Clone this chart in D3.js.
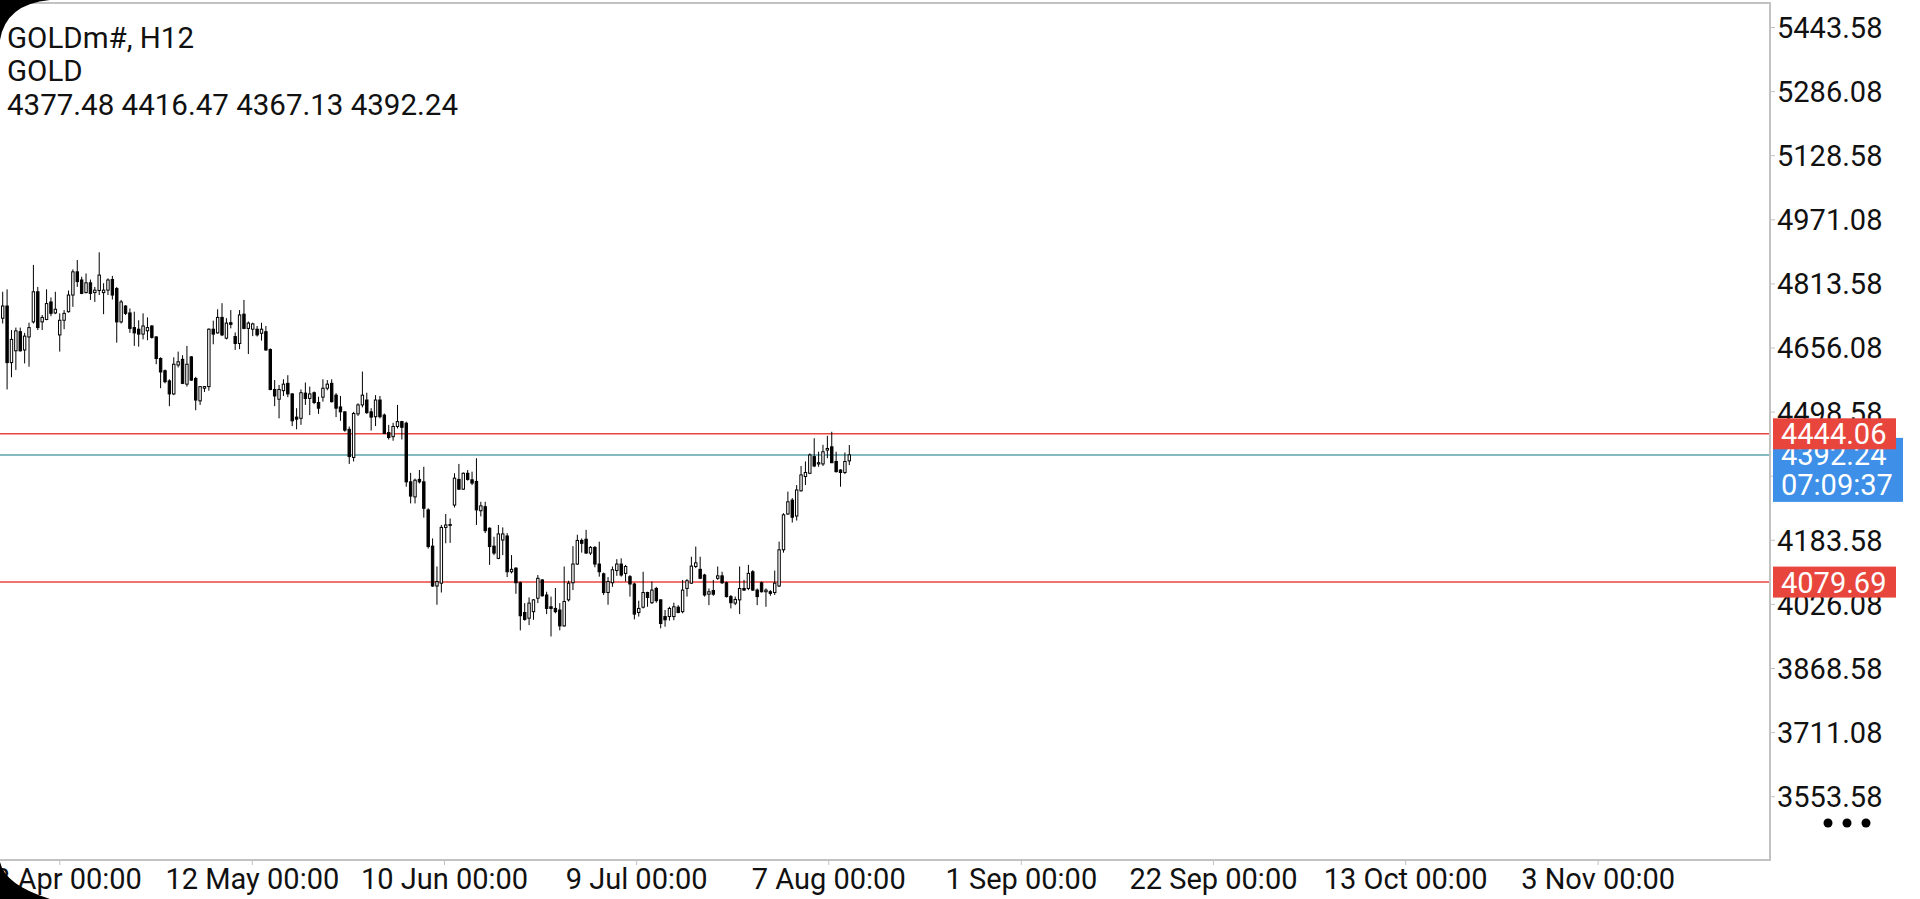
<!DOCTYPE html>
<html>
<head>
<meta charset="utf-8">
<script src="https://cdn.jsdelivr.net/npm/d3@7"></script>
<style>
  html, body { margin: 0; padding: 0; background: #fff; overflow: hidden; }
  svg { display: block; font-family: Roboto, "Noto Sans", sans-serif; }
</style>
</head>
<body>
<div id="chart"></div>
<script>
// header texts
const symbol = "GOLDm#, H12";
const description = "GOLD";
const barTimer = "07:09:37";

// H12 candles (oldest first)
const openP = [
  4728,4758,4619,4648,4695,4650,4682,4719,4793,4719,
  4725,4768,4741,4687,4723,4744,4785,4842,4822,4791,
  4815,4791,4796,4791,4797,4823,4801,4719,4758,4741,
  4705,4701,4689,4697,4709,4682,4629,4599,4574,4542,
  4613,4627,4566,4633,4580,4525,4556,4560,4701,4692,
  4730,4679,4717,4683,4666,4738,4703,4701,4701,4691,
  4695,4651,4553,4529,4550,4568,4542,4485,4482,4544,
  4531,4545,4521,4534,4556,4568,4539,4510,4498,4455,
  4386,4493,4515,4527,4498,4486,4527,4490,4447,4437,
  4462,4474,4470,4326,4289,4332,4326,4257,4168,4070,
  4077,4214,4219,4269,4332,4308,4347,4331,4327,4255,
  4265,4212,4168,4138,4183,4193,4105,4114,4078,4005,
  3991,4007,4040,4085,4048,4019,4015,4011,3972,4036,
  4078,4124,4182,4185,4151,4165,4124,4100,4054,4078,
  4108,4124,4101,4093,4075,4005,4018,4054,4029,4064,
  4036,3995,3995,3995,4018,4007,4064,4077,4118,4111,
  4097,4050,4059,4089,4095,4078,4044,4028,4036,4064,
  4064,4105,4060,4078,4056,4056,4054,4070,4159,4247,
  4281,4242,4304,4339,4347,4388,4370,4370,4404,4412,
  4376,4355,4349,4377.48
];
const highP = [
  4793,4799,4699,4705,4705,4692,4717,4859,4805,4736,
  4799,4779,4793,4740,4748,4796,4848,4871,4830,4838,
  4823,4805,4890,4814,4826,4832,4805,4773,4760,4752,
  4744,4723,4740,4730,4711,4684,4632,4602,4578,4632,
  4646,4637,4660,4635,4584,4561,4561,4703,4722,4750,
  4765,4728,4748,4693,4748,4773,4720,4717,4709,4717,
  4709,4654,4576,4564,4578,4588,4544,4507,4553,4570,
  4560,4548,4535,4578,4576,4578,4544,4537,4499,4462,
  4498,4519,4597,4545,4507,4539,4537,4494,4466,4471,
  4515,4476,4474,4348,4334,4355,4363,4261,4187,4118,
  4220,4247,4236,4347,4370,4349,4355,4351,4384,4277,
  4277,4214,4191,4220,4214,4200,4146,4116,4081,4028,
  4042,4038,4097,4087,4056,4044,4065,4028,4118,4083,
  4168,4196,4187,4208,4168,4168,4179,4103,4092,4118,
  4136,4138,4122,4097,4078,4034,4105,4056,4081,4068,
  4037,4011,4019,4029,4023,4085,4087,4142,4167,4142,
  4100,4064,4085,4118,4105,4081,4048,4044,4118,4085,
  4122,4109,4064,4081,4064,4060,4108,4179,4249,4302,
  4286,4318,4365,4376,4396,4433,4400,4417,4439,4449,
  4400,4357,4398,4416.47
];
const lowP = [
  4715,4553,4583,4601,4646,4617,4609,4715,4699,4699,
  4723,4733,4738,4646,4701,4742,4756,4805,4787,4789,
  4773,4768,4785,4738,4785,4774,4668,4715,4736,4692,
  4660,4658,4676,4674,4678,4615,4556,4568,4512,4539,
  4607,4566,4560,4574,4502,4515,4547,4550,4664,4690,
  4684,4676,4703,4650,4652,4701,4640,4684,4683,4673,
  4648,4551,4512,4482,4537,4534,4463,4455,4466,4515,
  4490,4517,4493,4523,4551,4521,4485,4476,4449,4370,
  4376,4488,4509,4493,4452,4463,4482,4444,4430,4427,
  4457,4430,4314,4273,4273,4322,4238,4162,4068,4024,
  4054,4175,4176,4263,4306,4306,4329,4318,4220,4241,
  4200,4122,4146,4136,4146,4092,4101,4051,3961,3985,
  3974,3987,4028,4044,4001,3946,4003,3961,3970,4032,
  4060,4122,4152,4149,4146,4116,4093,4048,4024,4068,
  4095,4093,4081,4044,3988,3995,4015,4019,4026,4029,
  3966,3970,3985,3986,4003,4003,4044,4075,4114,4087,
  4044,4023,4046,4085,4075,4042,4015,4023,4001,4058,
  4060,4058,4023,4054,4019,4046,4048,4068,4152,4245,
  4226,4231,4302,4318,4345,4362,4363,4365,4384,4372,
  4349,4314,4345,4367.13
];
const closeP = [
  4758,4619,4676,4697,4648,4684,4705,4793,4705,4730,
  4764,4740,4750,4723,4740,4785,4842,4818,4789,4815,
  4789,4797,4834,4797,4822,4785,4719,4768,4740,4703,
  4692,4689,4709,4705,4681,4629,4596,4572,4542,4615,
  4621,4568,4615,4576,4527,4560,4560,4701,4689,4730,
  4687,4716,4713,4666,4736,4703,4716,4714,4687,4701,
  4650,4553,4537,4553,4566,4542,4476,4480,4545,4531,
  4542,4521,4507,4556,4566,4523,4507,4498,4453,4388,
  4494,4515,4539,4496,4485,4527,4486,4445,4435,4462,
  4474,4460,4326,4291,4330,4326,4261,4167,4070,4081,
  4214,4220,4221,4335,4308,4347,4332,4323,4257,4267,
  4206,4167,4151,4198,4198,4105,4111,4078,3997,3988,
  4028,4036,4089,4046,4015,4015,4007,3972,4032,4077,
  4124,4182,4175,4151,4165,4124,4105,4054,4081,4110,
  4124,4097,4118,4075,4001,4015,4054,4042,4060,4034,
  3978,3987,4015,4019,4005,4060,4083,4119,4127,4089,
  4048,4056,4050,4095,4078,4044,4029,4037,4064,4060,
  4101,4060,4044,4056,4060,4052,4077,4159,4245,4277,
  4239,4306,4343,4349,4392,4365,4373,4400,4408,4373,
  4351,4349,4376,4392.24
];

// price scale labels
const priceTicks = [5443.58, 5286.08, 5128.58, 4971.08, 4813.58, 4656.08, 4498.58,
  4341.08, 4183.58, 4026.08, 3868.58, 3711.08, 3553.58];

// time scale labels and the bar position they sit on
const timeLabels = ["13 Apr 00:00", "12 May 00:00", "10 Jun 00:00", "9 Jul 00:00",
  "7 Aug 00:00", "1 Sep 00:00", "22 Sep 00:00", "13 Oct 00:00", "3 Nov 00:00"];
const timeBars = [12.9, 56.8, 100.6, 144.4, 188.2, 232.1, 275.9, 319.7, 363.6];

// horizontal levels drawn on the chart
const levelLines = [4444.06, 4079.69];

const width = 1920;
const height = 899;
const frame = { right: 1770, top: 3, bottom: 860 };
const fontSize = 29;
const gridColor = "#c2c2c2";
const red = "#e8463d";
const blue = "#3d8fe8";

const svg = d3
  .select("#chart")
  .append("svg")
  .attr("width", width)
  .attr("height", height);

svg.append("rect").attr("width", width).attr("height", height).attr("fill", "#fff");

const n = openP.length;
const x = d3.scaleLinear().domain([0, n - 1]).range([2.7, 849.3]);
const y = d3.scaleLinear().domain([3553.58, 5443.58]).range([796.2, 27]);

svg
  .append("clipPath")
  .attr("id", "plot-clip")
  .append("rect")
  .attr("x", 0)
  .attr("y", frame.top)
  .attr("width", frame.right)
  .attr("height", frame.bottom - frame.top);

const plot = svg.append("g").attr("clip-path", "url(#plot-clip)");

// level lines and current price line
plot
  .selectAll(".level")
  .data(levelLines)
  .join("line")
  .attr("class", "level")
  .attr("x1", 0)
  .attr("x2", frame.right)
  .attr("y1", (d) => y(d))
  .attr("y2", (d) => y(d))
  .attr("stroke", red)
  .attr("stroke-width", 1.5);

const lastClose = closeP[n - 1];
plot
  .append("line")
  .attr("x1", 0)
  .attr("x2", frame.right)
  .attr("y1", y(lastClose))
  .attr("y2", y(lastClose))
  .attr("stroke", "#5aa3ab")
  .attr("stroke-width", 1.5);

// candles
const candles = d3.range(n).map((i) => ({
  i,
  o: openP[i],
  h: highP[i],
  l: lowP[i],
  c: closeP[i],
}));

const bars = plot.selectAll(".candle").data(candles).join("g").attr("class", "candle");

bars
  .append("line")
  .attr("x1", (d) => x(d.i))
  .attr("x2", (d) => x(d.i))
  .attr("y1", (d) => y(d.h))
  .attr("y2", (d) => y(d.l))
  .attr("stroke", "#000")
  .attr("stroke-width", 1);

bars
  .append("rect")
  .attr("x", (d) => x(d.i) - 1.2)
  .attr("width", 2.4)
  .attr("y", (d) => y(Math.max(d.o, d.c)))
  .attr("height", (d) => Math.max(0.6, Math.abs(y(d.o) - y(d.c))))
  .attr("fill", (d) => (d.c >= d.o ? "#fff" : "#000"))
  .attr("stroke", "#000")
  .attr("stroke-width", 1);

// frame
svg
  .append("path")
  .attr("d", `M0,${frame.top}H${frame.right}V${frame.bottom}H0`)
  .attr("fill", "none")
  .attr("stroke", gridColor)
  .attr("stroke-width", 2);

// price axis
const yAxis = svg
  .append("g")
  .attr("transform", `translate(${frame.right},0)`)
  .call(
    d3.axisRight(y).tickValues(priceTicks).tickSize(5).tickPadding(2).tickFormat(d3.format(".2f"))
  );
yAxis.select(".domain").remove();
yAxis.selectAll(".tick line").attr("stroke", gridColor);
yAxis
  .selectAll(".tick text")
  .attr("font-family", "Roboto")
  .attr("font-size", fontSize)
  .attr("fill", "#111")
  .attr("dy", "0.36em");

// time axis
const xAxis = svg
  .append("g")
  .attr("transform", `translate(0,${frame.bottom})`)
  .call(
    d3.axisBottom(x).tickValues(timeBars).tickSize(5).tickPadding(3).tickFormat((d, i) => timeLabels[i])
  );
xAxis.select(".domain").remove();
xAxis.selectAll(".tick line").attr("stroke", gridColor);
xAxis
  .selectAll(".tick text")
  .attr("font-family", "Roboto")
  .attr("font-size", fontSize)
  .attr("fill", "#111");

// current price tag with bar timer
const tag = svg.append("g");
tag
  .append("rect")
  .attr("x", frame.right + 3)
  .attr("y", y(lastClose) - 17)
  .attr("width", 130)
  .attr("height", 64)
  .attr("fill", blue);
tag
  .selectAll("text")
  .data([d3.format(".2f")(lastClose), barTimer])
  .join("text")
  .attr("x", frame.right + 11)
  .attr("y", (d, i) => y(lastClose) + i * 30)
  .attr("dy", "0.36em")
  .attr("font-size", fontSize)
  .attr("fill", "#fff")
  .text((d) => d);

// level tags
const levelTags = svg.selectAll(".level-tag").data(levelLines).join("g").attr("class", "level-tag");
levelTags
  .append("rect")
  .attr("x", frame.right + 3)
  .attr("y", (d) => y(d) - 15.5)
  .attr("width", 123)
  .attr("height", 31)
  .attr("fill", red);
levelTags
  .append("text")
  .attr("x", frame.right + 11)
  .attr("y", (d) => y(d))
  .attr("dy", "0.36em")
  .attr("font-size", fontSize)
  .attr("fill", "#fff")
  .text((d) => d3.format(".2f")(d));

// header lines
const ohlc = [openP, highP, lowP, closeP].map((a) => d3.format(".2f")(a[n - 1])).join(" ");
svg
  .selectAll(".header")
  .data([symbol, description, ohlc])
  .join("text")
  .attr("class", "header")
  .attr("x", 7)
  .attr("y", (d, i) => [48, 81, 115][i])
  .attr("font-size", 29.5)
  .attr("fill", "#111")
  .text((d) => d);

// menu dots
svg
  .selectAll(".dot")
  .data([0, 1, 2])
  .join("circle")
  .attr("class", "dot")
  .attr("cx", (d) => 1828 + d * 19)
  .attr("cy", 823)
  .attr("r", 4.5)
  .attr("fill", "#000");

// rounded screen corners
svg
  .append("path")
  .attr("d", "M0,0H50Q6,4 0,40Z")
  .attr("fill", "#000");
svg
  .append("path")
  .attr("d", `M0,${height}V862Q5,885 50,${height}Z`)
  .attr("fill", "#000");
</script>
</body>
</html>
